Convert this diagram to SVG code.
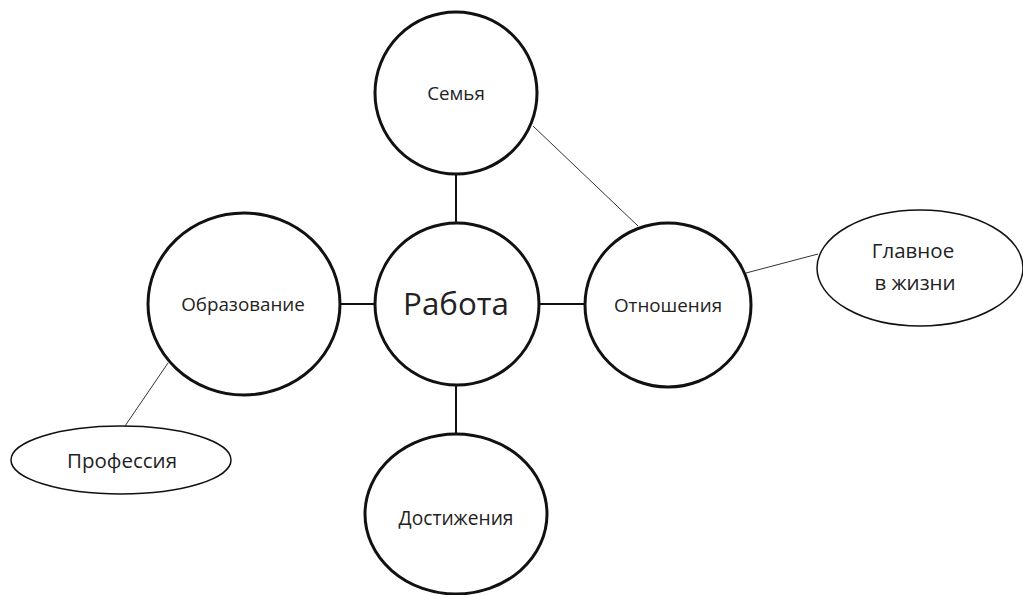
<svg xmlns="http://www.w3.org/2000/svg" width="1023" height="595" viewBox="0 0 1023 595">
<style>
.big{fill:#fff;stroke:#111;stroke-width:3}
.small{fill:#fff;stroke:#111;stroke-width:1.5}
.t{font-family:"Open Sans","Noto Sans",sans-serif;font-size:18.8px;fill:#222;text-anchor:middle}
.s{font-size:20.5px}
.thick{stroke:#111;stroke-width:2}
.thin{stroke:#333;stroke-width:1}
</style>
<rect width="1023" height="595" fill="#fff"/>
<g id="connectors">
<line class="thick" x1="456" y1="174" x2="456" y2="223"/>
<line class="thick" x1="340" y1="304" x2="375" y2="304"/>
<line class="thick" x1="539" y1="304" x2="585" y2="304"/>
<line class="thick" x1="456" y1="385" x2="456" y2="435"/>
<line class="thin" x1="533" y1="126" x2="638" y2="226"/>
<line class="thin" x1="746" y1="273" x2="818" y2="254"/>
<line class="thin" x1="168" y1="363" x2="125" y2="426"/>
</g>
<g id="semya">
<ellipse class="big" cx="456" cy="93" rx="81" ry="81"/>
<text class="t" x="456" y="100">Семья</text>
</g>
<g id="rabota">
<ellipse class="big" cx="457" cy="304" rx="82" ry="81"/>
<text class="t" x="456" y="315" style="font-size:31.3px">Работа</text>
</g>
<g id="obrazovanie">
<ellipse class="big" cx="244" cy="304" rx="96" ry="91"/>
<text class="t" x="243" y="311">Образование</text>
</g>
<g id="otnosheniya">
<ellipse class="big" cx="668" cy="305" rx="83" ry="82"/>
<text class="t" x="668" y="312">Отношения</text>
</g>
<g id="dostizheniya">
<ellipse class="big" cx="456" cy="514" rx="91" ry="80"/>
<text class="t" x="456" y="525" style="font-size:19.2px">Достижения</text>
</g>
<g id="glavnoe">
<ellipse class="small" cx="920" cy="268" rx="103" ry="58"/>
<text class="t s" x="913" y="258">Главное</text>
<text class="t s" x="915" y="290">в жизни</text>
</g>
<g id="professiya">
<ellipse class="small" cx="121" cy="460" rx="110" ry="34"/>
<text class="t s" x="122" y="468">Профессия</text>
</g>
</svg>
